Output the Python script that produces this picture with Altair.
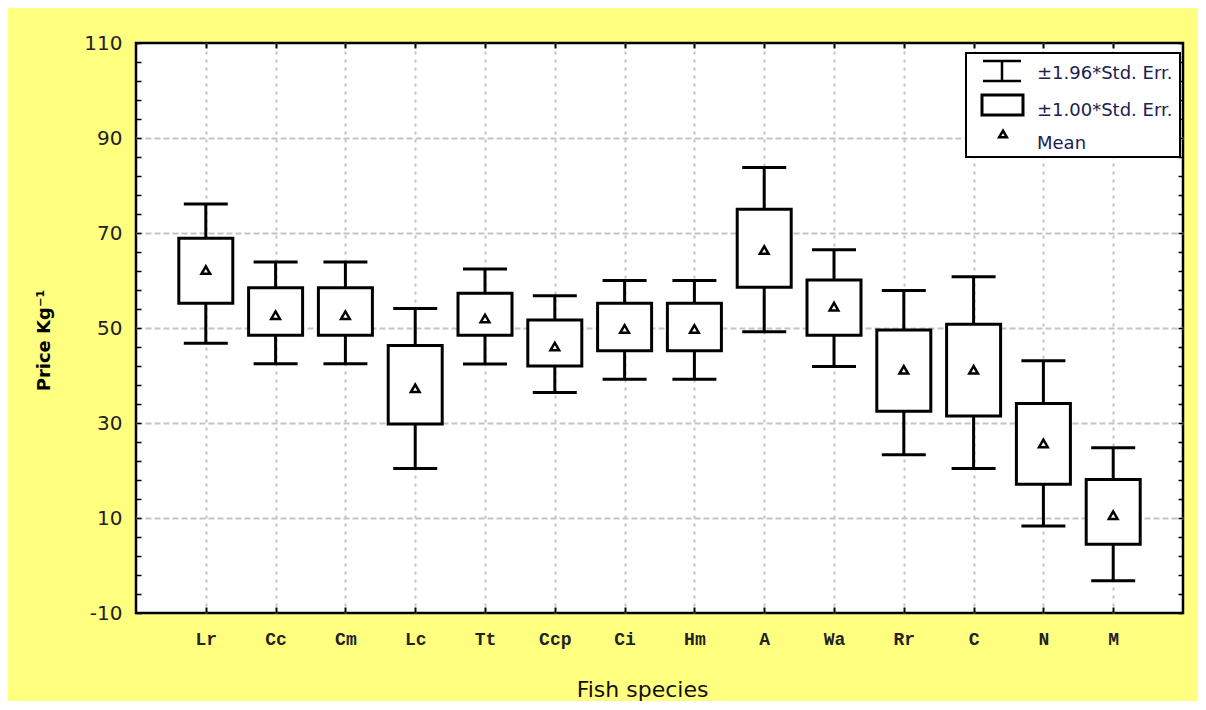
import altair as alt
import pandas as pd

# ---- data ----
species = ["Lr", "Cc", "Cm", "Lc", "Tt", "Ccp", "Ci", "Hm", "A", "Wa", "Rr", "C", "N", "M"]
mean_vals = [62.2, 52.7, 52.7, 37.3, 52.0, 46.1, 49.8, 49.8, 66.4, 54.5, 41.2, 41.2, 25.7, 10.6]
box_lo = [55.2, 48.5, 48.5, 29.8, 48.5, 42.0, 45.2, 45.2, 58.6, 48.5, 32.5, 31.5, 17.1, 4.5]
box_hi = [68.9, 58.5, 58.5, 46.3, 57.3, 51.7, 55.2, 55.2, 75.0, 60.1, 49.6, 50.8, 34.1, 18.1]
whisk_lo = [46.8, 42.5, 42.5, 20.4, 42.4, 36.4, 39.2, 39.2, 49.2, 41.9, 23.3, 20.4, 8.3, -3.2]
whisk_hi = [76.1, 63.9, 63.9, 54.1, 62.4, 56.8, 60.0, 60.0, 83.8, 66.5, 57.9, 60.8, 43.1, 24.8]

y_major = [-10, 10, 30, 50, 70, 90, 110]
y_minor = list(range(-10, 111, 4))
legend_labels = ["\u00b11.96*Std. Err.", "\u00b11.00*Std. Err.", "Mean"]

W, H = 1047, 570

df = pd.DataFrame(dict(species=species, mean=mean_vals, blo=box_lo, bhi=box_hi,
                       wlo=whisk_lo, whi=whisk_hi))

xscale = alt.Scale(type="point", padding=1)
yscale = alt.Scale(domain=[-10, 110], nice=False, zero=False)


def X(axis):
    return alt.X("species:N", sort=species, scale=xscale, axis=axis)


def Y(field, axis):
    return alt.Y(f"{field}:Q", scale=yscale, axis=axis)


ax_x_main = alt.Axis(
    title="Fish species", labels=True, ticks=False, tickSize=0, domain=False,
    grid=True, gridDash=[3, 5], gridColor="#c4c4c4", gridWidth=2,
    labelFont="Liberation Mono", labelFontSize=18, labelFontWeight="bold",
    labelColor="#222222", labelPadding=17, labelAngle=0,
    titleFont="DejaVu Sans", titleFontSize=22, titleFontWeight="normal",
    titleColor="#111111", titlePadding=31, titleX=506)

ax_y_main = alt.Axis(
    title="Price Kg\u207b\u00b9", values=y_major, labels=True, ticks=False, tickSize=0,
    domain=False, grid=True, gridDash=[6, 3], gridColor="#c4c4c4", gridWidth=2,
    gridOpacity={"condition": {"test": "datum.value <= -10 || datum.value >= 110", "value": 0},
                 "value": 1},
    labelExpr="replace(datum.label, '\u2212', '-')",
    labelFont="DejaVu Sans", labelFontSize=20, labelColor="#222222", labelPadding=14,
    titleFont="DejaVu Sans", titleFontSize=18, titleFontWeight="bold", titleColor="#000000",
    titleAngle=270, titleX=-92, titleY=297, titleAlign="center", titleBaseline="middle")

ax_y_ticks_left = alt.Axis(orient="right", offset=-W, values=y_minor, ticks=True, tickSize=5,
                           tickWidth=1.5, tickColor="black", labels=False, domain=False,
                           grid=False, title=None)
ax_y_ticks_right = alt.Axis(orient="left", offset=-W, values=y_minor, ticks=True, tickSize=5,
                            tickWidth=1.5, tickColor="black", labels=False, domain=False,
                            grid=False, title=None)
ax_x_ticks_bottom = alt.Axis(orient="top", offset=-H, ticks=True, tickSize=6, tickWidth=2,
                             tickColor="black", labels=False, domain=False, grid=False, title=None)
ax_x_ticks_top = alt.Axis(orient="bottom", offset=-H, ticks=True, tickSize=5, tickWidth=2,
                          tickColor="black", labels=False, domain=False, grid=False, title=None)

base = alt.Chart(df)

whisk = base.mark_rule(color="black", strokeWidth=3).encode(
    x=X(ax_x_main), y=Y("wlo", ax_y_main), y2="whi:Q")
box = base.mark_bar(fill="white", stroke="black", strokeWidth=3, size=54, opacity=1).encode(
    x=X(ax_x_ticks_bottom), y=Y("blo", ax_y_ticks_left), y2="bhi:Q")
cap_hi = base.mark_tick(color="black", thickness=3, size=44, opacity=1).encode(
    x=X(ax_x_ticks_top), y=Y("whi", ax_y_ticks_right))
cap_lo = base.mark_tick(color="black", thickness=3, size=44, opacity=1).encode(
    x=X(None), y=Y("wlo", None))
means = base.mark_point(shape="triangle-up", filled=False, color="black", strokeWidth=2.5,
                        size=75, opacity=1).encode(x=X(None), y=Y("mean", None))

# ---- legend (drawn in plot pixel space) ----
one = pd.DataFrame({"k": [0]})
lg = alt.Chart(one)
leg_box = lg.mark_rect(fill="white", stroke="black", strokeWidth=2).encode(
    x=alt.value(830), x2=alt.value(1044), y=alt.value(10), y2=alt.value(114))
leg_cap1 = lg.mark_rule(color="black", strokeWidth=2.5).encode(
    x=alt.value(847), x2=alt.value(885), y=alt.value(18))
leg_cap2 = lg.mark_rule(color="black", strokeWidth=2.5).encode(
    x=alt.value(847), x2=alt.value(885), y=alt.value(38))
leg_stem = lg.mark_rule(color="black", strokeWidth=2.5).encode(
    x=alt.value(866), y=alt.value(18), y2=alt.value(38))
leg_rect = lg.mark_rect(fill="white", stroke="black", strokeWidth=3).encode(
    x=alt.value(846), x2=alt.value(887), y=alt.value(52), y2=alt.value(72))
leg_tri = lg.mark_point(shape="triangle-up", filled=False, color="black", strokeWidth=2.5,
                        size=60, opacity=1).encode(x=alt.value(867), y=alt.value(91))
txt_kw = dict(align="left", baseline="middle", font="DejaVu Sans", fontSize=18, color="#202050")
leg_t1 = lg.mark_text(**txt_kw).encode(x=alt.value(901), y=alt.value(31), text=alt.value(legend_labels[0]))
leg_t2 = lg.mark_text(**txt_kw).encode(x=alt.value(901), y=alt.value(68), text=alt.value(legend_labels[1]))
leg_t3 = lg.mark_text(**txt_kw).encode(x=alt.value(901), y=alt.value(101), text=alt.value(legend_labels[2]))

chart = alt.layer(
    whisk, box, cap_hi, cap_lo, means,
    leg_box, leg_cap1, leg_cap2, leg_stem, leg_rect, leg_tri, leg_t1, leg_t2, leg_t3
).resolve_scale(x="independent", y="independent").properties(
    width=W, height=H, background="#FFFF80",
    autosize=alt.AutoSizeParams(type="none"),
    padding={"left": 128, "top": 35, "right": 15, "bottom": 88},
).configure_view(fill="white", stroke="black", strokeWidth=2.5)

chart.save("out.html", embed_options={"renderer": "svg", "actions": False})
